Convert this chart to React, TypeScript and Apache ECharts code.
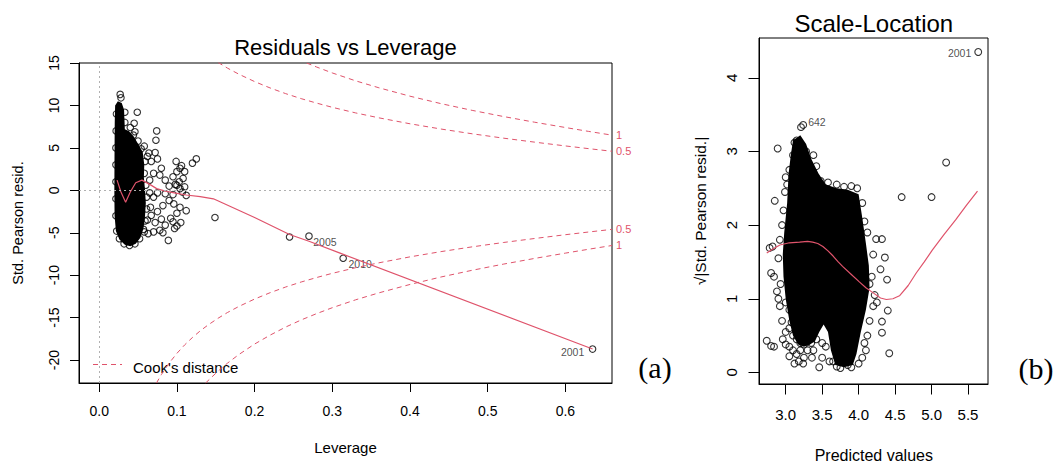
import React, { useEffect, useRef } from 'react';
import * as echarts from 'echarts';

const RED = '#DF536B';
const SANS = 'Liberation Sans, Arial, sans-serif';
const SERIF = 'Liberation Serif, Times New Roman, serif';

// ---------- (a) Residuals vs Leverage ----------
const levTicks = [0, 0.1, 0.2, 0.3, 0.4, 0.5, 0.6];
const residTicks = [-20, -15, -10, -5, 0, 5, 10, 15];

// outline of the solid black mass of overlapping points
const levBlobOutline: number[][] = [
  [0.0205, 10.0], [0.0240, 10.5], [0.0290, 10.3], [0.0320, 9.5], [0.0330, 7.2],
  [0.0380, 7.0], [0.0440, 6.4], [0.0500, 5.5], [0.0560, 4.5], [0.0580, 3.0],
  [0.0575, 1.5], [0.0590, 0.0], [0.0600, -1.5], [0.0590, -3.0], [0.0570, -4.5],
  [0.0530, -5.6], [0.0470, -6.3], [0.0400, -6.6], [0.0330, -6.4], [0.0260, -5.8],
  [0.0215, -4.8], [0.0198, -3.0], [0.0195, 0.0], [0.0197, 4.0], [0.0200, 8.0],
];

const levPoints: number[][] = [
  [0.027, 11.3], [0.028, 10.9], [0.049, 9.2], [0.045, 7.9], [0.046, 6.9], [0.040, 7.4],
  [0.074, 7.0], [0.073, 5.9], [0.072, 4.45], [0.075, 3.7], [0.067, 3.4], [0.064, 4.4],
  [0.058, 5.2], [0.062, 4.0], [0.099, 3.4], [0.125, 3.7], [0.120, 3.2], [0.104, 2.6],
  [0.108, 1.4], [0.095, 1.6], [0.100, 2.2], [0.106, 2.9], [0.110, 2.2], [0.103, 1.0],
  [0.098, 0.7], [0.110, 0.4], [0.078, 1.8], [0.080, 2.6], [0.070, 2.0], [0.065, 1.2],
  [0.085, 1.2], [0.090, 0.5], [0.100, 0.6], [0.104, 0.2], [0.112, -0.6], [0.107, -0.2],
  [0.095, -0.5], [0.085, -0.4], [0.075, -0.3], [0.070, -0.8], [0.065, -0.3],
  [0.112, -2.4], [0.104, -2.0], [0.149, -3.2], [0.089, -5.9], [0.067, -2.95],
  [0.072, -3.8], [0.078, -4.7], [0.070, -4.9], [0.058, -4.9], [0.063, -5.1],
  [0.062, -3.5], [0.066, -2.0], [0.075, -2.5], [0.080, -3.4], [0.085, -4.1],
  [0.082, -5.0], [0.095, -3.7], [0.100, -4.2], [0.092, -3.3], [0.082, -1.8],
  [0.090, -1.2], [0.096, -1.6], [0.100, -2.7], [0.097, -4.5], [0.105, -3.8],
  [0.057, -4.6], [0.059, -3.6], [0.061, -2.2], [0.061, -0.8], [0.060, 0.6],
  [0.058, 2.0], [0.059, 3.4], [0.054, 4.9], [0.050, 5.8], [0.044, 6.5],
  [0.052, -5.7], [0.046, -6.3], [0.039, -6.5], [0.032, -6.3], [0.026, -5.7],
  [0.0225, -4.8], [0.0215, -3.0], [0.0215, -1.0], [0.0215, 1.0], [0.0215, 3.0],
  [0.0215, 5.0], [0.0218, 7.0], [0.0222, 9.0], [0.033, 8.0], [0.033, 9.2],
  [0.245, -5.5],
];

const levLabeledPoints: number[][] = [[0.270, -5.4], [0.314, -8.0], [0.635, -18.7]];
const levLabeledIds = ['2005', '2010', '2001'];

const levSmooth: number[][] = [
  [0.023, 1.2], [0.028, -0.2], [0.034, -1.4], [0.040, -0.2], [0.047, 0.9],
  [0.055, 1.2], [0.065, 0.7], [0.074, 0.2], [0.085, -0.1], [0.100, -0.35],
  [0.112, -0.55], [0.130, -0.75], [0.147, -1.0], [0.200, -3.2], [0.245, -5.2],
  [0.270, -6.0], [0.310, -7.4], [0.635, -18.7],
];

const cookHalfUpper: number[][] = [
  [0.153, 15.07], [0.165, 14.40], [0.18, 13.67], [0.2, 12.81], [0.22, 12.06], [0.24, 11.39],
  [0.26, 10.80], [0.28, 10.27], [0.3, 9.78], [0.33, 9.12], [0.36, 8.54], [0.4, 7.84],
  [0.44, 7.22], [0.48, 6.66], [0.52, 6.15], [0.56, 5.68], [0.6, 5.23], [0.63, 4.91], [0.66, 4.60],
];
const cookOneUpper: number[][] = [
  [0.267, 15.0], [0.28, 14.52], [0.3, 13.83], [0.33, 12.90], [0.36, 12.08], [0.4, 11.09],
  [0.44, 10.21], [0.48, 9.42], [0.52, 8.70], [0.56, 8.03], [0.6, 7.40], [0.63, 6.94], [0.66, 6.50],
];
const cookHalfLower: number[][] = [
  [0.0737, -22.70], [0.08, -21.71], [0.09, -20.36], [0.1, -19.21], [0.11, -18.21],
  [0.12, -17.34], [0.13, -16.56], [0.14, -15.87], [0.153, -15.07], [0.165, -14.40],
  [0.18, -13.67], [0.2, -12.81], [0.22, -12.06], [0.24, -11.39], [0.26, -10.80],
  [0.28, -10.27], [0.3, -9.78], [0.33, -9.12], [0.36, -8.54], [0.4, -7.84], [0.44, -7.22],
  [0.48, -6.66], [0.52, -6.15], [0.56, -5.68], [0.6, -5.23], [0.63, -4.91], [0.66, -4.60],
];
const cookOneLower: number[][] = [
  [0.137, -22.70], [0.145, -21.99], [0.155, -21.14], [0.165, -20.37], [0.18, -19.33],
  [0.2, -18.11], [0.22, -17.06], [0.24, -16.11], [0.26, -15.27], [0.28, -14.52],
  [0.3, -13.83], [0.33, -12.90], [0.36, -12.08], [0.4, -11.09], [0.44, -10.21],
  [0.48, -9.42], [0.52, -8.70], [0.56, -8.03], [0.6, -7.40], [0.63, -6.94], [0.66, -6.50],
];
const cookLevels = ['0.5', '1'];

// ---------- (b) Scale-Location ----------
const predTicks = [3.0, 3.5, 4.0, 4.5, 5.0, 5.5];
const sqrtTicks = [0, 1, 2, 3, 4];

const slBlobOutline: number[][] = [
  [3.10, 3.15], [3.20, 3.22], [3.28, 3.10], [3.35, 2.90], [3.45, 2.70], [3.55, 2.55],
  [3.70, 2.50], [3.85, 2.48], [4.00, 2.42], [4.05, 2.10], [4.10, 1.75], [4.14, 1.45],
  [4.15, 1.15], [4.10, 0.85], [4.03, 0.55], [3.97, 0.25], [3.92, 0.10], [3.80, 0.07],
  [3.68, 0.10], [3.62, 0.30], [3.58, 0.55], [3.52, 0.65], [3.46, 0.55], [3.40, 0.42],
  [3.33, 0.38], [3.25, 0.35], [3.17, 0.38], [3.10, 0.50], [3.05, 0.70], [3.00, 1.00],
  [2.97, 1.30], [2.96, 1.60], [2.98, 1.90], [3.02, 2.30], [3.04, 2.70], [3.07, 2.95],
];

const slPoints: number[][] = [
  // lower-left cluster
  [3.0, 0.95], [3.05, 0.85], [3.0, 0.55], [3.05, 0.6], [3.1, 0.5], [3.15, 0.45],
  [3.2, 0.4], [3.25, 0.38], [3.3, 0.42], [3.35, 0.4], [3.05, 0.35], [3.1, 0.3],
  [3.15, 0.25], [3.2, 0.3], [3.25, 0.2], [3.3, 0.3], [3.12, 0.12], [3.24, 0.12],
  [3.46, 0.07], [2.95, 0.7], [2.92, 0.9], [2.96, 0.45], [3.0, 0.38], [3.18, 0.15],
  [3.38, 0.3], [3.42, 0.45], [3.5, 0.4], [3.55, 0.35], [3.5, 0.2], [3.6, 0.15],
  [3.08, 0.68], [3.36, 0.2], [3.05, 0.22],
  // left edge
  [2.74, 0.43], [2.80, 0.36], [2.84, 0.35], [2.80, 1.35], [2.84, 1.3], [2.78, 1.69],
  [2.82, 1.71], [2.85, 2.33], [2.89, 3.04], [2.88, 1.1], [2.9, 1.0], [2.9, 1.55],
  [2.92, 1.8], [2.95, 2.0], [2.97, 2.2], [2.93, 1.2], [2.99, 2.45], [3.0, 2.65],
  // top edge
  [3.21, 3.33], [3.15, 3.15], [3.12, 3.12], [3.2, 3.05], [3.28, 3.0], [3.3, 2.85],
  [3.38, 2.95], [3.42, 2.8], [3.1, 2.95], [3.05, 2.75], [3.02, 2.55], [3.48, 2.6],
  [3.58, 2.58], [3.7, 2.55], [3.8, 2.52], [3.9, 2.53], [3.98, 2.5], [3.6, 2.45],
  // right edge
  [4.05, 2.3], [4.08, 2.05], [4.12, 1.9], [4.24, 1.81], [4.32, 1.81], [4.36, 1.56],
  [4.3, 1.4], [4.39, 1.26], [4.2, 1.6], [4.18, 1.3], [4.22, 1.05], [4.2, 0.9],
  [4.32, 0.69], [4.32, 0.54], [4.4, 0.84], [4.42, 0.26], [4.15, 0.7], [4.12, 0.5],
  [4.08, 0.4], [4.05, 0.2], [4.0, 0.12], [4.15, 1.2], [4.25, 0.95], [4.1, 0.3],
  // bottom
  [3.9, 0.07], [3.85, 0.1], [3.75, 0.06], [3.7, 0.08], [3.65, 0.15],
  // far
  [4.59, 2.38], [5.0, 2.38], [5.2, 2.85],
];

const slLabeledPoints: number[][] = [[3.24, 3.36], [5.64, 4.35]];
const slLabeledIds = ['642', '2001'];

const slSmooth: number[][] = [
  [2.74, 1.62], [2.83, 1.68], [2.92, 1.73], [3.05, 1.76], [3.19, 1.77], [3.30, 1.78],
  [3.37, 1.77], [3.44, 1.75], [3.51, 1.71], [3.58, 1.65], [3.65, 1.58], [3.72, 1.50],
  [3.78, 1.44], [3.90, 1.33], [4.01, 1.23], [4.10, 1.15], [4.20, 1.08], [4.30, 1.01],
  [4.38, 0.99], [4.47, 1.00], [4.56, 1.04], [4.68, 1.18], [4.79, 1.35], [4.90, 1.50],
  [5.01, 1.66], [5.17, 1.87], [5.33, 2.07], [5.48, 2.27], [5.63, 2.46],
];

// ---------- option building ----------
function valueAxis(
  gridIndex: number, min: number, max: number, ticks: number[], fontSize: number,
  margin: number, tickLen: number, rotate: number, digits: number
) {
  return {
    type: 'value', gridIndex, min, max,
    splitLine: { show: false },
    axisLine: { show: true, onZero: false, lineStyle: { color: '#000', width: 1 } },
    axisTick: { show: true, customValues: ticks, length: tickLen, lineStyle: { color: '#000', width: 1 } },
    axisLabel: {
      customValues: ticks, fontSize, fontFamily: SANS, color: '#000', margin, rotate,
      formatter: (v: number) => v.toFixed(digits),
    },
  };
}

const hollow = { color: 'rgba(0,0,0,0)', borderColor: '#000', borderWidth: 1.1 };

function blobSeries(outline: number[][], idx: number) {
  return {
    type: 'custom', xAxisIndex: idx, yAxisIndex: idx, data: outline, silent: true, z: 1,
    renderItem: (params: any, api: any) => {
      if (params.dataIndex !== 0) return null;
      const pts = outline.map((p) => api.coord(p));
      return { type: 'polygon', shape: { points: pts }, style: { fill: '#000' } };
    },
  };
}

function cookSeries(data: number[][], level: string) {
  return {
    type: 'line', xAxisIndex: 0, yAxisIndex: 0, data, symbol: 'none', silent: true, z: 3,
    lineStyle: { color: RED, width: 1, type: [5, 4] },
    endLabel: { show: true, formatter: level, color: RED, fontSize: 11, fontFamily: SANS, distance: 4 },
  };
}

const levLabelPlace = [
  { position: 'right', distance: 0.5, offset: [0, 6] },
  { position: 'right', distance: 1.5, offset: [0, 6] },
  { position: 'left', distance: 4.5, offset: [0, 3] },
];
const slLabelPlace = [
  { position: 'right', distance: 1, offset: [0, -3] },
  { position: 'left', distance: 3, offset: [0, 1.5] },
];

const pointLabelStyle = { show: true, color: '#222', fontSize: 10.5, fontFamily: SANS };

function labeled(points: number[][], ids: string[], place: any[]) {
  return points.map((p, i) => ({
    value: p, name: ids[i],
    label: { ...pointLabelStyle, formatter: ids[i], ...place[i] },
  }));
}

const option: any = {
  animation: false,
  backgroundColor: '#fff',
  color: ['#000'],
  grid: [
    { left: 79, top: 63, width: 533, height: 320, show: true, borderColor: '#000', borderWidth: 1, backgroundColor: 'transparent', outerBoundsMode: 'none' },
    { left: 759, top: 38, width: 229, height: 346, show: true, borderColor: '#000', borderWidth: 1, backgroundColor: 'transparent', outerBoundsMode: 'none' },
  ],
  xAxis: [
    valueAxis(0, -0.026, 0.66, levTicks, 14, 21, 9, 0, 1),
    valueAxis(1, 2.634, 5.774, predTicks, 15, 23, 10.5, 0, 1),
  ],
  yAxis: [
    valueAxis(0, -22.7, 15, residTicks, 14, 18, 9, 90, 0),
    valueAxis(1, -0.157, 4.54, sqrtTicks, 15, 20, 10.5, 90, 0),
  ],
  series: [
    blobSeries(levBlobOutline, 0),
    {
      type: 'scatter', xAxisIndex: 0, yAxisIndex: 0, data: levPoints, symbol: 'circle',
      symbolSize: 6.5, itemStyle: hollow, silent: true, z: 2,
      markLine: {
        silent: true, symbol: ['none', 'none'], label: { show: false },
        lineStyle: { color: '#b0b0b0', type: [2, 3], width: 1 },
        data: [{ xAxis: 0 }, { yAxis: 0 }],
      },
    },
    {
      type: 'scatter', xAxisIndex: 0, yAxisIndex: 0, symbol: 'circle', symbolSize: 6.5,
      itemStyle: hollow, silent: true, z: 2, label: pointLabelStyle,
      data: labeled(levLabeledPoints, levLabeledIds, levLabelPlace),
    },
    cookSeries(cookHalfUpper, cookLevels[0]),
    cookSeries(cookOneUpper, cookLevels[1]),
    cookSeries(cookHalfLower, cookLevels[0]),
    cookSeries(cookOneLower, cookLevels[1]),
    {
      type: 'line', xAxisIndex: 0, yAxisIndex: 0, data: levSmooth, symbol: 'none', silent: true, z: 4,
      lineStyle: { color: RED, width: 1.2 },
    },
    blobSeries(slBlobOutline, 1),
    {
      type: 'scatter', xAxisIndex: 1, yAxisIndex: 1, data: slPoints, symbol: 'circle',
      symbolSize: 6.8, itemStyle: hollow, silent: true, z: 2,
    },
    {
      type: 'scatter', xAxisIndex: 1, yAxisIndex: 1, symbol: 'circle', symbolSize: 6.8,
      itemStyle: hollow, silent: true, z: 2, label: pointLabelStyle,
      data: labeled(slLabeledPoints, slLabeledIds, slLabelPlace),
    },
    {
      type: 'line', xAxisIndex: 1, yAxisIndex: 1, data: slSmooth, symbol: 'none', silent: true, z: 4,
      lineStyle: { color: RED, width: 1.2 },
    },
  ],
  graphic: [
    { type: 'text', x: 345.5, y: 47, style: { text: 'Residuals vs Leverage', fontSize: 22, fontFamily: SANS, fill: '#000', align: 'center', verticalAlign: 'middle', textAlign: 'center', textVerticalAlign: 'middle' } },
    { type: 'text', x: 873.8, y: 23, style: { text: 'Scale-Location', fontSize: 24, fontFamily: SANS, fill: '#000', align: 'center', verticalAlign: 'middle', textAlign: 'center', textVerticalAlign: 'middle' } },
    { type: 'text', x: 345.5, y: 447, style: { text: 'Leverage', fontSize: 15, fontFamily: SANS, fill: '#000', align: 'center', verticalAlign: 'middle', textAlign: 'center', textVerticalAlign: 'middle' } },
    { type: 'text', x: 873.8, y: 455, style: { text: 'Predicted values', fontSize: 16, fontFamily: SANS, fill: '#000', align: 'center', verticalAlign: 'middle', textAlign: 'center', textVerticalAlign: 'middle' } },
    { type: 'text', x: 17.5, y: 223, rotation: Math.PI / 2, style: { text: 'Std. Pearson resid.', fontSize: 14.5, fontFamily: SANS, fill: '#000', align: 'center', verticalAlign: 'middle', textAlign: 'center', textVerticalAlign: 'middle' } },
    { type: 'text', x: 700, y: 211, rotation: Math.PI / 2, style: { text: '√|Std. Pearson resid.|', fontSize: 15.5, fontFamily: SANS, fill: '#000', align: 'center', verticalAlign: 'middle', textAlign: 'center', textVerticalAlign: 'middle' } },
    { type: 'text', x: 655, y: 367, style: { text: '(a)', fontSize: 30, fontFamily: SERIF, fill: '#000', align: 'center', verticalAlign: 'middle', textAlign: 'center', textVerticalAlign: 'middle' } },
    { type: 'text', x: 1036, y: 368, style: { text: '(b)', fontSize: 30, fontFamily: SERIF, fill: '#000', align: 'center', verticalAlign: 'middle', textAlign: 'center', textVerticalAlign: 'middle' } },
    { type: 'line', shape: { x1: 93, y1: 364.5, x2: 122, y2: 364.5 }, style: { stroke: RED, lineWidth: 1, lineDash: [5, 4] } },
    { type: 'text', x: 133, y: 367.5, style: { text: "Cook's distance", fontSize: 15, fontFamily: SANS, fill: '#000', align: 'left', verticalAlign: 'middle', textAlign: 'left', textVerticalAlign: 'middle' } },
  ],
};

export default function App() {
  const ref = useRef<HTMLDivElement>(null);
  useEffect(() => {
    if (!ref.current) return;
    const chart = echarts.init(ref.current, null, { renderer: 'svg' });
    chart.setOption(option);
    return () => chart.dispose();
  }, []);
  return (
    <div
      ref={ref}
      style={{ position: 'fixed', left: 0, top: 0, width: 1057, height: 463, background: '#fff' }}
    />
  );
}
